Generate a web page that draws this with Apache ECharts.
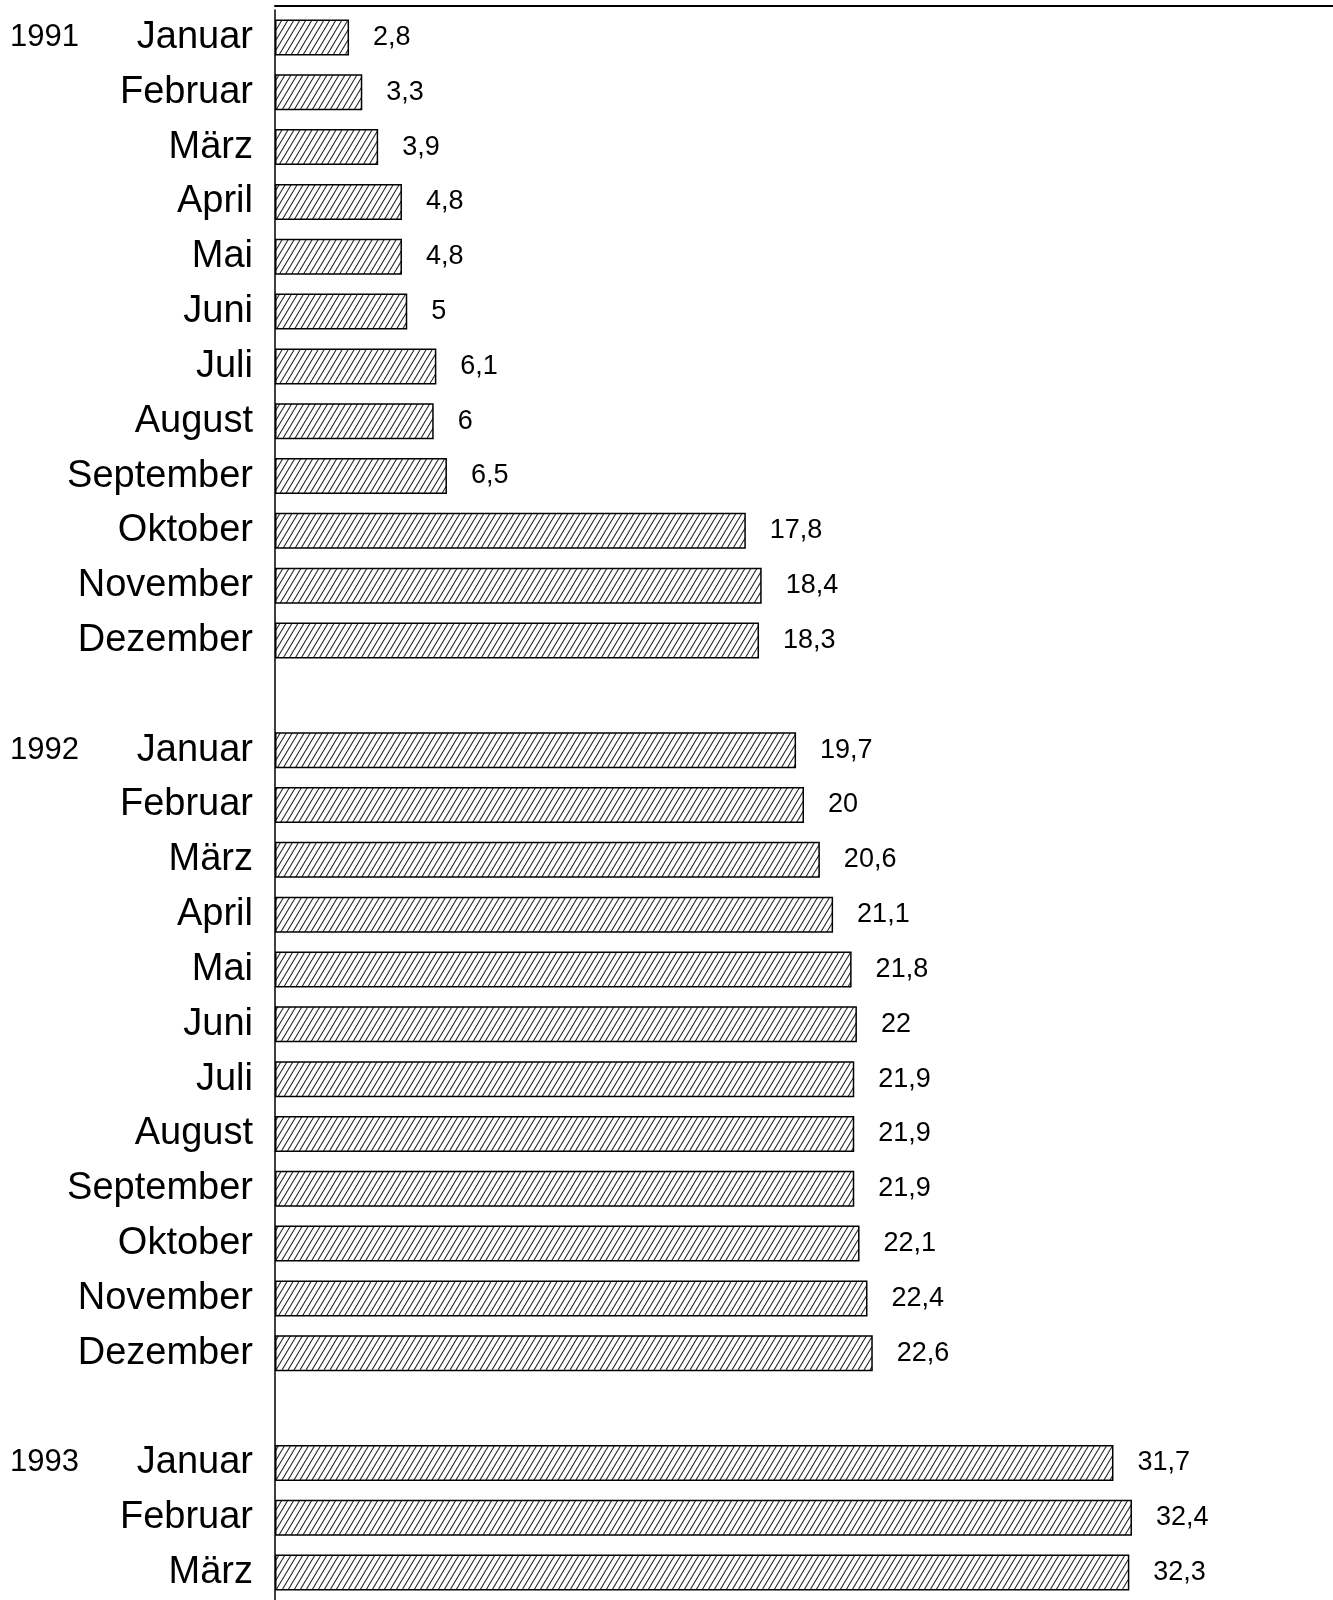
<!DOCTYPE html>
<html>
<head>
<meta charset="utf-8">
<script src="https://cdn.jsdelivr.net/npm/echarts@6/dist/echarts.min.js"></script>
<style>
html,body{margin:0;padding:0;background:#fff;}
#chart{width:1333px;height:1600px;}
</style>
</head>
<body>
<div id="chart"></div>
<script>
// Category rows (blank rows separate the years)
var months = [
  'Januar','Februar','März','April','Mai','Juni','Juli','August','September','Oktober','November','Dezember',
  '',
  'Januar','Februar','März','April','Mai','Juni','Juli','August','September','Oktober','November','Dezember',
  '',
  'Januar','Februar','März'
];
var yearLabels = [
  '1991','','','','','','','','','','','',
  '',
  '1992','','','','','','','','','','','',
  '',
  '1993','',''
];
var values = [
  2.8, 3.3, 3.9, 4.8, 4.8, 5, 6.1, 6, 6.5, 17.8, 18.4, 18.3,
  null,
  19.7, 20, 20.6, 21.1, 21.8, 22, 21.9, 21.9, 21.9, 22.1, 22.4, 22.6,
  null,
  31.7, 32.4, 32.3
];

function makeHatch() {
  var c = document.createElement('canvas');
  var w = 6, h = 10;
  c.width = w; c.height = h;
  var ctx = c.getContext('2d');
  ctx.fillStyle = '#fff';
  ctx.fillRect(0, 0, w, h);
  ctx.strokeStyle = '#222';
  ctx.lineWidth = 1.1;
  for (var k = -1; k <= 1; k++) {
    ctx.beginPath();
    ctx.moveTo(k * w, h);
    ctx.lineTo(k * w + w, 0);
    ctx.stroke();
  }
  return c;
}

var chart = echarts.init(document.getElementById('chart'), null, {renderer: 'canvas'});
var font = 'Liberation Sans, Arial, Helvetica, sans-serif';
chart.setOption({
  animation: false,
  backgroundColor: '#fff',
  grid: {left: 275, top: 10, width: 1066, height: 1598, containLabel: false},
  xAxis: {
    type: 'value', position: 'top', min: 0, max: 40, offset: 4,
    axisLine: {show: true, lineStyle: {color: '#000', width: 2}},
    axisTick: {show: false}, axisLabel: {show: false}, splitLine: {show: false}
  },
  yAxis: [
    {
      type: 'category', inverse: true, data: months,
      axisLine: {show: true, onZero: false, lineStyle: {color: '#000', width: 1.5}},
      axisTick: {show: false},
      axisLabel: {fontFamily: font, fontSize: 38, color: '#000', margin: 22, interval: 0}
    },
    {
      type: 'category', inverse: true, data: yearLabels, position: 'left',
      axisLine: {show: false}, axisTick: {show: false},
      axisLabel: {fontFamily: font, fontSize: 31, color: '#000', margin: 265, align: 'left', interval: 0}
    }
  ],
  series: [{
    type: 'bar', yAxisIndex: 0, data: values, barWidth: 36,
    itemStyle: {color: {image: makeHatch(), repeat: 'repeat'}, borderColor: '#000', borderWidth: 1.5},
    label: {
      show: true, position: 'right', distance: 24,
      fontFamily: font, fontSize: 27, color: '#000',
      formatter: function (p) { return p.value == null ? '' : String(p.value).replace('.', ','); }
    }
  }]
});
</script>
</body>
</html>
